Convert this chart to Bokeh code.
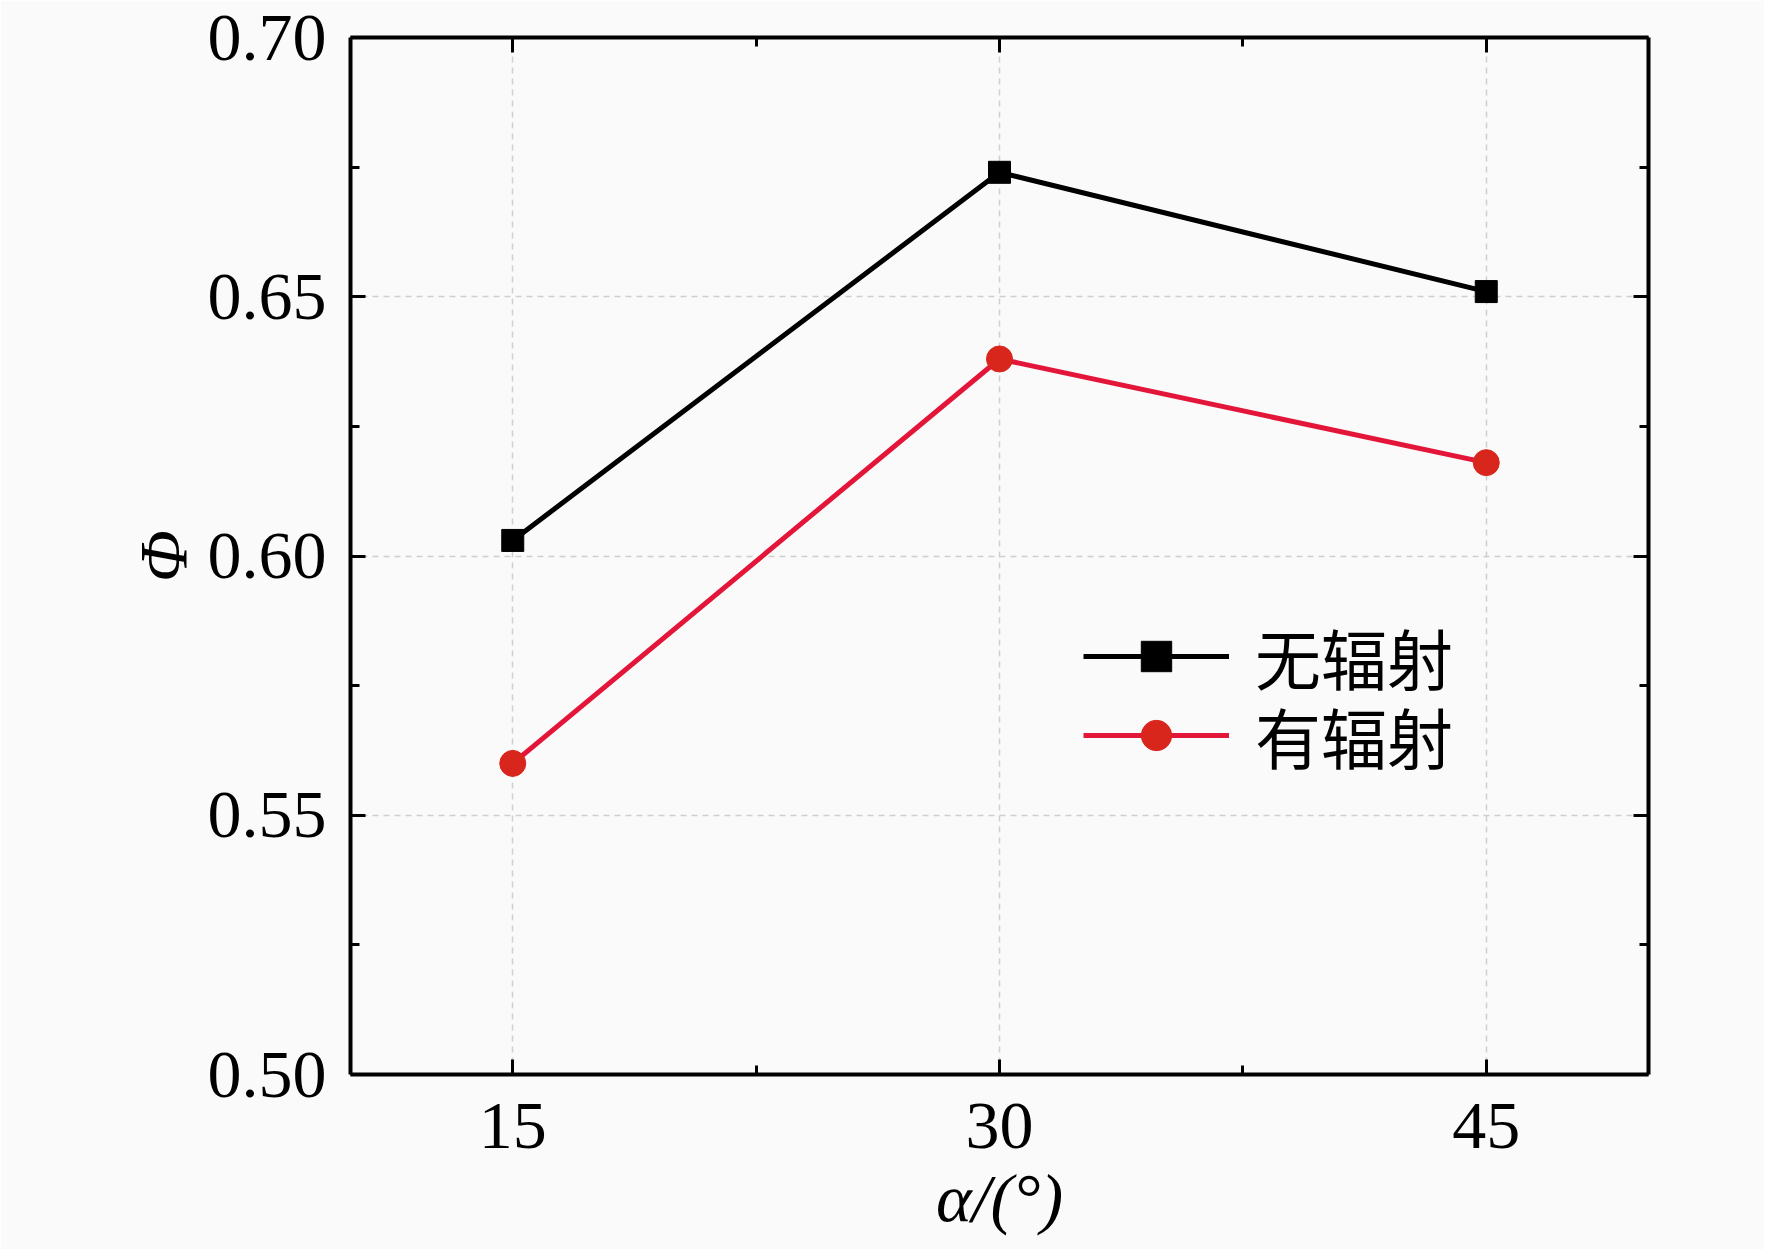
from bokeh.plotting import figure
from bokeh.models import (FixedTicker, LinearAxis, Range1d, Legend, LegendItem,
                          PrintfTickFormatter, CustomLabelingPolicy)
from bokeh.embed import file_html
from bokeh.resources import INLINE

# ---- data ----
angles = [15, 30, 45]
phi_no_radiation = [0.603, 0.674, 0.651]
phi_radiation = [0.560, 0.638, 0.618]
series_labels = ["无辐射", "有辐射"]
x_major = [15, 30, 45]
x_minor = [22.5, 37.5]
y_major = [0.50, 0.55, 0.60, 0.65, 0.70]
y_minor = [0.525, 0.575, 0.625, 0.675]

SERIF = "Liberation Serif"
CJK = "Liberation Serif, Noto Sans CJK SC"
FS = "68px"
BG = "#fafafa"

p = figure(frame_width=1298, frame_height=1037,
           min_border_left=350, min_border_right=116,
           min_border_top=37, min_border_bottom=175,
           x_range=Range1d(10, 50), y_range=Range1d(0.5, 0.7),
           output_backend="svg", toolbar_location=None,
           background_fill_color=BG, border_fill_color=BG)
p.outline_line_color = None

hide_all = CustomLabelingPolicy(
    code="for (let i = 0; i < indices.size; i++) { indices.unset(i) }\nreturn indices")


def style_axis(ax, ticks, minor, show_labels=True):
    ax.ticker = FixedTicker(ticks=ticks, minor_ticks=minor)
    ax.axis_line_width = 4
    ax.axis_line_color = "black"
    ax.major_tick_in = 15
    ax.major_tick_out = 0
    ax.minor_tick_in = 9
    ax.minor_tick_out = 0
    ax.major_tick_line_width = 3
    ax.minor_tick_line_width = 3
    ax.major_tick_line_color = "black"
    ax.minor_tick_line_color = "black"
    if show_labels:
        ax.major_label_text_font = SERIF
        ax.major_label_text_font_size = FS
        ax.major_label_text_color = "black"
    else:
        ax.major_label_text_font_size = "2px"
        ax.major_label_standoff = 0
        ax.major_label_policy = hide_all


xa = p.xaxis[0]
ya = p.yaxis[0]
style_axis(xa, x_major, x_minor)
style_axis(ya, y_major, y_minor)
ya.formatter = PrintfTickFormatter(format="%.2f")
xa.major_label_standoff = 29
ya.major_label_standoff = 24

xa.axis_label = "α/(°)"
xa.axis_label_text_font = SERIF
xa.axis_label_text_font_size = FS
xa.axis_label_text_font_style = "italic"
xa.axis_label_text_color = "black"
xa.axis_label_standoff = 9

ya.axis_label = "Φ"
ya.axis_label_text_font = SERIF
ya.axis_label_text_font_size = FS
ya.axis_label_text_font_style = "italic"
ya.axis_label_text_color = "black"
ya.axis_label_standoff = 4

top = LinearAxis()
style_axis(top, x_major, x_minor, show_labels=False)
p.add_layout(top, "above")
right = LinearAxis()
style_axis(right, y_major, y_minor, show_labels=False)
p.add_layout(right, "right")

for g in (p.xgrid[0], p.ygrid[0]):
    g.grid_line_color = "#cfcfcf"
    g.grid_line_dash = "6 5"
    g.grid_line_width = 1.5
p.xgrid[0].ticker = FixedTicker(ticks=x_major)
p.ygrid[0].ticker = FixedTicker(ticks=y_major)

l1 = p.line(angles, phi_no_radiation, line_color="black", line_width=5)
s1 = p.scatter(angles, phi_no_radiation, marker="square", size=22,
               fill_color="black", line_color="black")
l2 = p.line(angles, phi_radiation, line_color="#e3163a", line_width=5)
s2 = p.scatter(angles, phi_radiation, marker="circle", size=26,
               fill_color="#d9261c", line_color="#d9261c")

legend_style = dict(padding=0, margin=0, glyph_width=146, glyph_height=76,
                    label_height=62, label_standoff=26, border_line_color=None,
                    background_fill_alpha=0, label_text_font=CJK,
                    label_text_font_size="66px", label_text_color="black")
legend1 = Legend(items=[LegendItem(label=series_labels[0], renderers=[l1, s1])],
                 location=(733, 370), **legend_style)
legend2 = Legend(items=[LegendItem(label=series_labels[1], renderers=[l2, s2])],
                 location=(733, 291), **legend_style)
p.add_layout(legend1)
p.add_layout(legend2)

open("out.html", "w").write(file_html(p, INLINE))
